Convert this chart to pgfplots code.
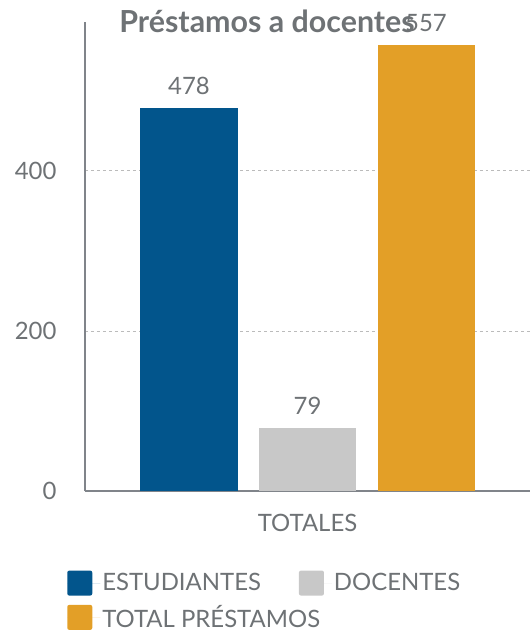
\documentclass[border=0pt]{standalone}
\usepackage{fontspec}
\setmainfont{Lato}
\usepackage{pgfplots}
\pgfplotsset{compat=1.18}

\definecolor{cblue}{HTML}{02558C}
\definecolor{cgray}{HTML}{C8C8C8}
\definecolor{corange}{HTML}{E39F27}
\definecolor{ctext}{HTML}{6E7275}
\definecolor{caxis}{HTML}{80848A}
\definecolor{cgrid}{HTML}{BBBBBB}

\newcommand\lab{\fontsize{24}{28}\selectfont}

\begin{document}
\begin{tikzpicture}
\begin{axis}[
    at={(0,0)}, anchor=south west,
    scale only axis,
    width=445bp, height=469bp,
    ybar=21.5bp,
    bar width=97bp,
    xmin=-1, xmax=1,
    ymin=0, ymax=586,
    enlargelimits=false,
    axis x line=bottom, axis y line=left,
    axis line style={-, caxis, line width=1.2bp},
    xtick={0}, xticklabels={TOTALES},
    ytick={0,200,400},
    major tick length=0pt,
    ymajorgrids,
    grid style={cgrid, dashed, line width=0.8bp},
    /pgf/number format/assume math mode=true,
    tick label style={font=\lab, text=ctext},
    yticklabel style={xshift=-25bp},
    xticklabel style={yshift=-20bp},
    nodes near coords,
    every node near coord/.append style={font=\lab, text=ctext, yshift=10bp},
    title={Préstamos a docentes},
    title style={at={(rel axis cs:0.409,0.964)}, anchor=base,
        font=\fontsize{30.5}{34}\selectfont\bfseries, text=ctext},
    legend columns=2,
    legend cell align=left,
    legend style={draw=none, fill=none, font=\lab, text=ctext,
        at={(rel axis cs:-0.047,-0.165)}, anchor=north west,
        row sep=8bp,
        /tikz/every even column/.append style={column sep=36bp}},
    legend image code/.code={
        \fill[#1, rounded corners=2bp] (0bp,-12.5bp) rectangle (25bp,12.5bp);
        \path (0bp,0bp) -- (33bp,0bp);},
]
\addplot[fill=cblue, draw=none] coordinates {(0,478)};
\addplot[fill=cgray, draw=none] coordinates {(0,79)};
\addplot[fill=corange, draw=none] coordinates {(0,557)};
\legend{ESTUDIANTES, DOCENTES, \rlap{TOTAL PRÉSTAMOS}}
\end{axis}
\pgfresetboundingbox
\path[use as bounding box] (-85bp,-141bp) rectangle (446bp,491bp);
\end{tikzpicture}
\end{document}
